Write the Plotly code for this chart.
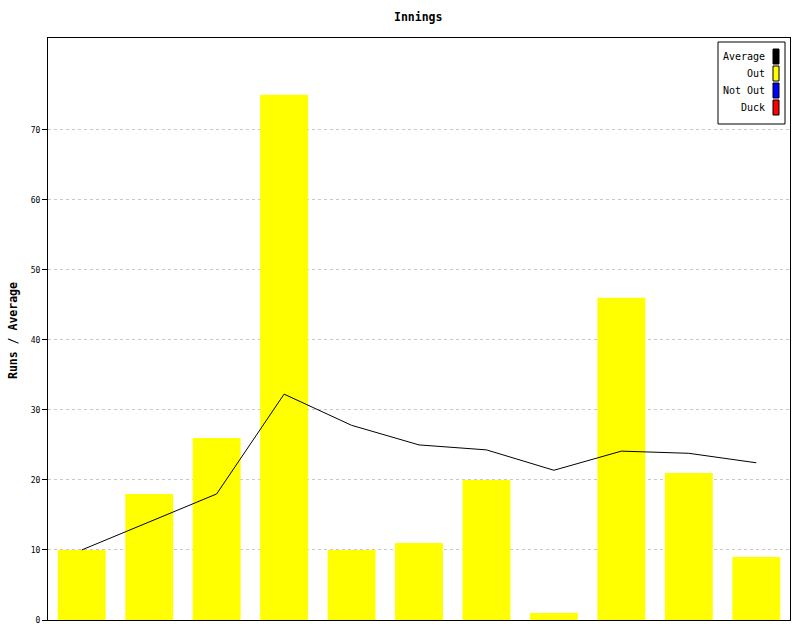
import plotly.graph_objects as go

innings = list(range(1, 12))
runs = [10, 18, 26, 75, 10, 11, 20, 1, 46, 21, 9]
average = [10, 14, 18, 32.25, 27.8, 25, 24.29, 21.38, 24.11, 23.8, 22.45]
legend_labels = ["Average", "Out", "Not Out", "Duck"]
legend_colors = ["#000000", "#ffff00", "#0000ff", "#ff0000"]
y_ticks = [0, 10, 20, 30, 40, 50, 60, 70]

W, H = 800, 640
L, R, T, B = 48, 10, 38, 20
PW, PH = W - L - R, H - T - B

def px(x):
    return (x - L) / PW

def py(y):
    return 1 - (y - T) / PH

MONO = "DejaVu Sans Mono, monospace"

fig = go.Figure()
fig.add_trace(go.Bar(x=innings, y=runs, marker=dict(color="#ffff00", line=dict(width=0)),
                     width=0.71, showlegend=False))
fig.add_trace(go.Scatter(x=innings, y=average, mode="lines",
                         line=dict(color="black", width=1), showlegend=False))

shapes = []
annotations = []
# legend box
shapes.append(dict(type="rect", xref="paper", yref="paper",
                   x0=px(718), x1=px(785), y0=py(124), y1=py(42),
                   line=dict(color="black", width=1), fillcolor="white", layer="above"))
for i, (lab, col) in enumerate(zip(legend_labels, legend_colors)):
    yc = 56.5 + 17 * i
    shapes.append(dict(type="rect", xref="paper", yref="paper",
                       x0=px(773), x1=px(779), y0=py(yc + 7.5), y1=py(yc - 7.5),
                       line=dict(color="black", width=1), fillcolor=col, layer="above"))
    annotations.append(dict(text=lab, xref="paper", yref="paper", x=px(767), y=py(yc),
                            xanchor="right", yanchor="middle", showarrow=False,
                            font=dict(family=MONO, size=10, color="black")))

annotations.append(dict(text="<b>Innings</b>", xref="paper", yref="paper",
                        x=px(418), y=py(17), xanchor="center", yanchor="middle",
                        showarrow=False, font=dict(family=MONO, size=11.5, color="black")))
annotations.append(dict(text="<b>Runs / Average</b>", xref="paper", yref="paper",
                        x=px(13), y=py(331), xanchor="center", yanchor="middle", textangle=-90,
                        showarrow=False, font=dict(family=MONO, size=11.5, color="black")))

fig.update_layout(
    width=W, height=H,
    margin=dict(l=L, r=R, t=T, b=B, pad=0),
    plot_bgcolor="white", paper_bgcolor="white",
    shapes=shapes, annotations=annotations,
    bargap=0.29,
    xaxis=dict(range=[0.5, 11.5], showticklabels=False, showgrid=False, zeroline=False,
               showline=True, linecolor="black", linewidth=1, mirror=True, ticks=""),
    yaxis=dict(range=[0, 83.1], tickvals=y_ticks, ticks="outside", ticklen=5,
               tickcolor="black", showline=True, linecolor="black", linewidth=1, mirror=True,
               showgrid=True, gridcolor="#c8c8c8", griddash="dot", gridwidth=1,
               zeroline=False, tickfont=dict(family=MONO, size=8, color="black")),
)

fig.write_html("out.html", config={"displayModeBar": False},
               post_script="document.body.style.margin='0';document.body.style.overflow='hidden';")
